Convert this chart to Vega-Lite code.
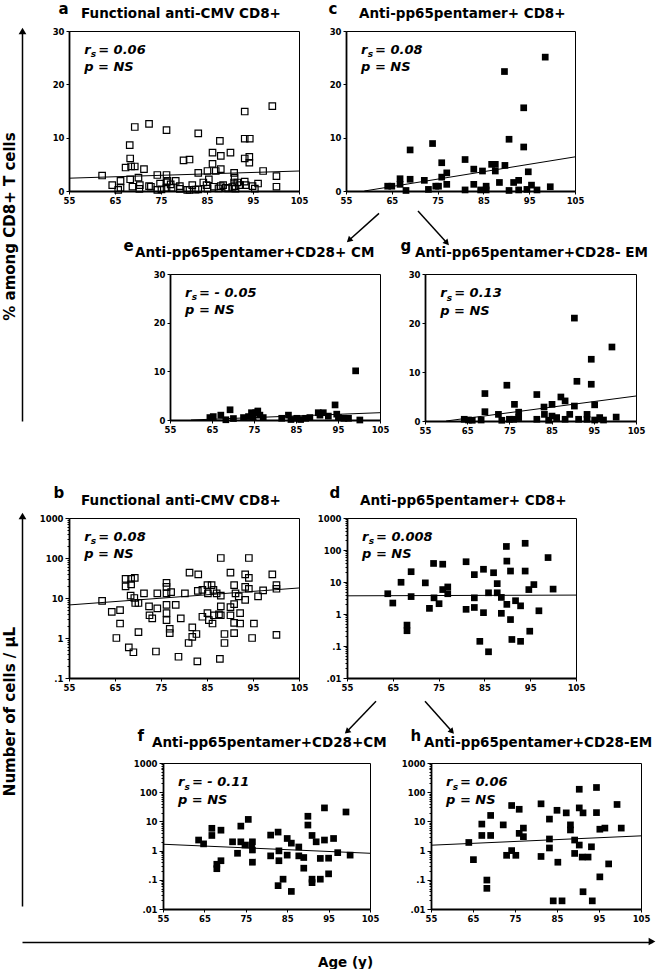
{
"$schema": "https://vega.github.io/schema/vega-lite/v6.json",
"background": "white",
"padding": {"left": 2, "top": 0, "right": 0, "bottom": 0},
"config": {
  "font": "DejaVu Sans",
  "view": {"stroke": "black", "strokeWidth": 1},
  "axis": {"labelFont": "DejaVu Sans", "labelFontSize": 8.5, "labelFontWeight": "bold", "labelColor": "black", "domainColor": "black", "domainWidth": 1.8, "tickColor": "black", "tickWidth": 1, "tickSize": 3, "labelPadding": 2, "grid": false, "titleColor": "black", "titleFont": "DejaVu Sans", "titleFontWeight": "bold"},
  "point": {"shape": "square", "filled": true, "color": "black", "size": 45, "opacity": 1},
  "rule": {"color": "black", "strokeWidth": 1},
  "text": {"font": "DejaVu Sans", "fontWeight": "bold", "fontStyle": "italic", "fontSize": 13, "align": "left", "baseline": "alphabetic", "color": "black"}
},
"datasets": {
  "a": [{"x":62.2,"y":2.9},{"x":64.4,"y":1.1},{"x":65.7,"y":0.2},{"x":66.2,"y":1.9},{"x":66.2,"y":0.6},{"x":67.3,"y":4.4},{"x":68.2,"y":8.6},{"x":68.3,"y":6.1},{"x":68.5,"y":4.6},{"x":68.3,"y":2.2},{"x":68.8,"y":0.8},{"x":69.3,"y":12.0},{"x":69.3,"y":4.6},{"x":70.1,"y":2.5},{"x":70.3,"y":0.4},{"x":70.4,"y":1.1},{"x":71.3,"y":4.1},{"x":72.4,"y":12.6},{"x":72.4,"y":0.9},{"x":72.8,"y":0.8},{"x":74.2,"y":3.0},{"x":74.2,"y":0.2},{"x":74.8,"y":1.4},{"x":75.1,"y":0.3},{"x":76.2,"y":11.4},{"x":76.2,"y":3.0},{"x":76.2,"y":1.6},{"x":76.4,"y":1.9},{"x":76.2,"y":0.6},{"x":77.1,"y":1.25},{"x":77.3,"y":0.6},{"x":78.2,"y":1.9},{"x":79.1,"y":0.4},{"x":79.1,"y":0.9},{"x":79.9,"y":5.75},{"x":80.7,"y":0.2},{"x":81.2,"y":5.9},{"x":81.2,"y":0.2},{"x":81.8,"y":1.1},{"x":82.5,"y":0.25},{"x":83.1,"y":10.8},{"x":83.1,"y":3.4},{"x":83.1,"y":0.3},{"x":84.2,"y":1.6},{"x":84.9,"y":1.1},{"x":85.1,"y":3.75},{"x":85.1,"y":0.45},{"x":85.4,"y":2.2},{"x":86.2,"y":5.1},{"x":86.2,"y":7.2},{"x":86.5,"y":0.8},{"x":86.9,"y":3.75},{"x":87.5,"y":0.5},{"x":87.8,"y":9.4},{"x":88.0,"y":6.6},{"x":88.0,"y":4.1},{"x":88.0,"y":0.9},{"x":88.5,"y":1.1},{"x":89.1,"y":0.6},{"x":89.6,"y":0.5},{"x":90.1,"y":7.2},{"x":90.5,"y":0.75},{"x":90.9,"y":3.4},{"x":90.9,"y":1.6},{"x":91.0,"y":2.5},{"x":91.0,"y":0.9},{"x":91.2,"y":0.45},{"x":91.6,"y":1.6},{"x":92.2,"y":1.1},{"x":93.2,"y":14.9},{"x":93.2,"y":9.8},{"x":94.3,"y":9.8},{"x":93.2,"y":6.1},{"x":94.2,"y":6.4},{"x":94.2,"y":5.3},{"x":93.2,"y":1.75},{"x":93.4,"y":1.1},{"x":94.9,"y":0.9},{"x":95.4,"y":0.45},{"x":96.1,"y":1.4},{"x":97.2,"y":3.75},{"x":99.2,"y":15.9},{"x":100.1,"y":2.8},{"x":100.1,"y":0.8}],
  "c": [{"x":64.1,"y":0.9},{"x":65.0,"y":0.9},{"x":66.8,"y":2.3},{"x":66.8,"y":1.25},{"x":68.1,"y":0.1},{"x":69.0,"y":7.7},{"x":69.0,"y":2.2},{"x":72.1,"y":2.0},{"x":73.0,"y":0.3},{"x":73.9,"y":8.9},{"x":74.6,"y":0.9},{"x":75.2,"y":0.9},{"x":75.9,"y":5.3},{"x":75.9,"y":2.6},{"x":77.0,"y":3.4},{"x":77.0,"y":1.25},{"x":81.0,"y":5.9},{"x":81.0,"y":0.2},{"x":82.9,"y":4.1},{"x":82.9,"y":1.25},{"x":84.8,"y":3.75},{"x":84.4,"y":0.2},{"x":85.6,"y":0.9},{"x":85.6,"y":0.2},{"x":86.8,"y":5.0},{"x":87.6,"y":3.75},{"x":87.6,"y":5.0},{"x":88.5,"y":1.6},{"x":89.6,"y":22.4},{"x":89.7,"y":4.8},{"x":90.6,"y":9.7},{"x":90.6,"y":0.1},{"x":91.6,"y":1.6},{"x":92.7,"y":2.0},{"x":92.7,"y":0.2},{"x":93.8,"y":15.6},{"x":93.8,"y":8.25},{"x":94.8,"y":3.6},{"x":94.5,"y":0.3},{"x":95.5,"y":1.1},{"x":96.7,"y":0.2},{"x":98.5,"y":25.1},{"x":99.6,"y":0.8}],
  "e": [{"x":64.5,"y":0.5},{"x":65.3,"y":0.7},{"x":67.1,"y":1.0},{"x":68.3,"y":0.05},{"x":69.3,"y":2.1},{"x":70.1,"y":0.3},{"x":72.5,"y":0.5},{"x":73.7,"y":0.7},{"x":74.4,"y":1.5},{"x":74.8,"y":0.5},{"x":75.4,"y":1.5},{"x":75.9,"y":1.85},{"x":76.4,"y":1.0},{"x":77.2,"y":0.5},{"x":81.6,"y":0.35},{"x":83.2,"y":1.0},{"x":83.8,"y":0.1},{"x":85.2,"y":0.35},{"x":86.1,"y":0.1},{"x":87.3,"y":0.35},{"x":88.3,"y":0.5},{"x":90.3,"y":1.5},{"x":90.7,"y":1.0},{"x":91.5,"y":1.5},{"x":92.7,"y":0.8},{"x":94.3,"y":3.1},{"x":94.7,"y":1.2},{"x":95.1,"y":0.5},{"x":96.4,"y":0.35},{"x":97.5,"y":0.35},{"x":99.2,"y":10.1},{"x":100.2,"y":0.0}],
  "g": [{"x":64.3,"y":0.35},{"x":65.3,"y":0.2},{"x":66.2,"y":0.15},{"x":68.3,"y":0.2},{"x":69.2,"y":5.6},{"x":69.2,"y":1.9},{"x":72.4,"y":1.35},{"x":73.2,"y":0.15},{"x":74.4,"y":7.3},{"x":75.0,"y":0.35},{"x":76.0,"y":0.35},{"x":76.2,"y":3.4},{"x":77.2,"y":1.8},{"x":77.2,"y":0.7},{"x":81.5,"y":5.4},{"x":81.5,"y":0.35},{"x":83.2,"y":2.85},{"x":83.3,"y":1.35},{"x":84.3,"y":0.15},{"x":85.1,"y":3.4},{"x":85.1,"y":1.0},{"x":86.2,"y":0.7},{"x":87.2,"y":4.9},{"x":88.2,"y":4.1},{"x":88.2,"y":0.35},{"x":89.3,"y":1.35},{"x":90.4,"y":3.05},{"x":90.4,"y":21.0},{"x":91.0,"y":8.1},{"x":91.4,"y":0.35},{"x":93.4,"y":0.35},{"x":93.4,"y":1.35},{"x":94.4,"y":12.6},{"x":94.4,"y":7.5},{"x":95.2,"y":3.3},{"x":95.2,"y":0.2},{"x":96.4,"y":0.7},{"x":97.3,"y":0.2},{"x":99.3,"y":15.1},{"x":100.3,"y":0.8}],
  "b": [{"x":62.2,"y":8.5},{"x":64.3,"y":4.5},{"x":66.1,"y":5.0},{"x":66.1,"y":2.3},{"x":65.3,"y":1.0},{"x":67.3,"y":30},{"x":68.5,"y":30},{"x":69.3,"y":32},{"x":67.3,"y":19.5},{"x":68.5,"y":22},{"x":68.4,"y":11.5},{"x":69.2,"y":10},{"x":69.4,"y":7.5},{"x":70.1,"y":7.5},{"x":70.1,"y":1.4},{"x":71.3,"y":13},{"x":72.5,"y":3.7},{"x":73.1,"y":3.1},{"x":72.4,"y":6.2},{"x":74.2,"y":13},{"x":74.2,"y":5.5},{"x":76.2,"y":24},{"x":76.2,"y":19},{"x":76.2,"y":13},{"x":76.2,"y":6.7},{"x":76.2,"y":4.2},{"x":76.2,"y":2.8},{"x":77.2,"y":14},{"x":78.2,"y":6.7},{"x":79.3,"y":3.1},{"x":80.2,"y":13},{"x":81.2,"y":43},{"x":83.1,"y":39},{"x":83.0,"y":15},{"x":84.0,"y":16},{"x":85.1,"y":21},{"x":86.0,"y":21},{"x":85.2,"y":13},{"x":86.4,"y":16},{"x":87.1,"y":13},{"x":88.0,"y":100},{"x":88.0,"y":11.5},{"x":88.0,"y":6.2},{"x":88.0,"y":3.7},{"x":84.0,"y":3.4},{"x":85.1,"y":4.2},{"x":85.4,"y":2.8},{"x":86.2,"y":2.3},{"x":86.5,"y":3.7},{"x":87.6,"y":3.9},{"x":90.1,"y":43},{"x":90.9,"y":21},{"x":91.2,"y":13},{"x":91.9,"y":11},{"x":90.1,"y":5.9},{"x":90.9,"y":7},{"x":90.1,"y":3.7},{"x":92.2,"y":4.2},{"x":92.2,"y":2.3},{"x":93.3,"y":39},{"x":94.1,"y":32},{"x":93.3,"y":19},{"x":94.1,"y":17},{"x":93.3,"y":9},{"x":94.1,"y":100},{"x":95.2,"y":2.3},{"x":96.1,"y":11},{"x":97.2,"y":15.5},{"x":99.2,"y":39},{"x":100.1,"y":21},{"x":100.1,"y":17},{"x":100.1,"y":1.2},{"x":68.0,"y":0.58},{"x":69.0,"y":0.44},{"x":73.9,"y":0.46},{"x":76.9,"y":1.7},{"x":76.9,"y":1.33},{"x":78.8,"y":0.34},{"x":81.0,"y":0.75},{"x":81.8,"y":1.85},{"x":81.8,"y":1.07},{"x":82.7,"y":1.26},{"x":82.9,"y":0.26},{"x":87.8,"y":0.3},{"x":88.8,"y":1.26},{"x":88.8,"y":0.75},{"x":90.9,"y":1.33},{"x":90.9,"y":2.4},{"x":94.8,"y":1.0}],
  "d": [{"x":63.9,"y":4.3},{"x":65.0,"y":2.2},{"x":66.8,"y":9.8},{"x":69.0,"y":21},{"x":69.0,"y":3.5},{"x":68.1,"y":0.45},{"x":68.1,"y":0.3},{"x":72.1,"y":9.4},{"x":73.0,"y":1.5},{"x":73.9,"y":38},{"x":74.0,"y":3.2},{"x":75.1,"y":2.1},{"x":75.9,"y":36},{"x":75.9,"y":5.8},{"x":77.0,"y":7},{"x":77.0,"y":4.3},{"x":81.0,"y":43},{"x":81.0,"y":1.4},{"x":82.8,"y":17},{"x":82.8,"y":3.2},{"x":82.8,"y":1.6},{"x":84.8,"y":25},{"x":84.8,"y":1.1},{"x":85.9,"y":4.6},{"x":87.0,"y":19.5},{"x":87.8,"y":8.9},{"x":87.8,"y":4.6},{"x":88.7,"y":3.3},{"x":88.7,"y":1.05},{"x":89.8,"y":129},{"x":89.9,"y":45},{"x":89.9,"y":2.0},{"x":90.7,"y":22},{"x":90.7,"y":0.67},{"x":91.8,"y":2.6},{"x":92.9,"y":1.8},{"x":93.9,"y":162},{"x":93.9,"y":22},{"x":94.7,"y":5.8},{"x":95.8,"y":8.3},{"x":96.9,"y":1.26},{"x":98.9,"y":58},{"x":100.0,"y":6},{"x":84.0,"y":0.14},{"x":85.9,"y":0.066},{"x":91.0,"y":0.16},{"x":92.9,"y":0.14},{"x":94.9,"y":0.29}],
  "f": [{"x":63.6,"y":2.3},{"x":64.8,"y":1.7},{"x":66.8,"y":5.8},{"x":66.8,"y":3.3},{"x":69.0,"y":5.0},{"x":68.0,"y":0.34},{"x":68.0,"y":0.24},{"x":69.0,"y":0.45},{"x":71.8,"y":2.0},{"x":73.0,"y":0.81},{"x":73.8,"y":6.9},{"x":73.8,"y":2.0},{"x":74.8,"y":1.55},{"x":75.6,"y":11.7},{"x":76.4,"y":1.55},{"x":76.6,"y":2.0},{"x":76.6,"y":1.05},{"x":76.6,"y":0.4},{"x":81.0,"y":3.4},{"x":81.0,"y":0.66},{"x":82.8,"y":4.3},{"x":83.0,"y":0.98},{"x":83.0,"y":0.45},{"x":84.0,"y":0.105},{"x":82.8,"y":0.063},{"x":85.0,"y":2.6},{"x":85.0,"y":0.7},{"x":86.0,"y":1.8},{"x":86.0,"y":0.04},{"x":87.8,"y":1.33},{"x":87.8,"y":0.66},{"x":89.0,"y":0.58},{"x":89.0,"y":0.25},{"x":90.0,"y":15},{"x":90.0,"y":7.5},{"x":91.0,"y":3.3},{"x":91.0,"y":0.105},{"x":91.0,"y":0.08},{"x":92.0,"y":2.0},{"x":93.0,"y":0.54},{"x":93.0,"y":0.105},{"x":94.0,"y":29},{"x":94.0,"y":2.3},{"x":95.0,"y":0.55},{"x":95.0,"y":0.16},{"x":96.2,"y":2.6},{"x":97.2,"y":0.85},{"x":99.2,"y":21},{"x":100.2,"y":0.7}],
  "h": [{"x":64.0,"y":1.9},{"x":65.1,"y":0.49},{"x":67.1,"y":8.1},{"x":67.1,"y":3.3},{"x":68.3,"y":0.098},{"x":68.3,"y":0.051},{"x":69.2,"y":16},{"x":69.2,"y":3.3},{"x":72.2,"y":7.6},{"x":73.0,"y":0.69},{"x":74.2,"y":35},{"x":74.2,"y":1.0},{"x":75.2,"y":0.69},{"x":76.0,"y":26},{"x":76.0,"y":3.9},{"x":77.0,"y":5.9},{"x":77.0,"y":3.0},{"x":81.2,"y":40},{"x":81.2,"y":0.63},{"x":83.2,"y":12},{"x":83.2,"y":2.5},{"x":83.2,"y":1.23},{"x":84.1,"y":0.019},{"x":85.0,"y":24},{"x":85.2,"y":0.4},{"x":86.2,"y":0.019},{"x":87.2,"y":19.6},{"x":88.2,"y":7.6},{"x":88.2,"y":5.1},{"x":89.2,"y":2.3},{"x":89.2,"y":0.8},{"x":90.3,"y":126},{"x":90.3,"y":29},{"x":90.3,"y":1.55},{"x":91.2,"y":19.6},{"x":91.0,"y":0.6},{"x":91.2,"y":0.039},{"x":92.4,"y":0.6},{"x":93.2,"y":1.35},{"x":93.4,"y":0.019},{"x":94.4,"y":145},{"x":94.4,"y":20},{"x":95.2,"y":5.4},{"x":96.4,"y":5.9},{"x":95.2,"y":0.126},{"x":97.3,"y":0.35},{"x":99.3,"y":38},{"x":100.3,"y":5.9}]
},
"spacing": 14,
"vconcat": [
 {"spacing": 11, "hconcat": [
  {"spacing": 91, "vconcat": [
   {"width": 1, "height": 390, "view": {"stroke": null}, "data": {"values": [{}]},
    "mark": {"type": "point", "shape": "triangle-up", "size": 60},
    "encoding": {"y": {"datum": 1, "type": "quantitative", "scale": {"domain": [0, 1], "nice": false}, "axis": {"domain": true, "domainWidth": 1.5, "ticks": false, "labels": false, "title": "% among CD8+ T cells", "titleFontSize": 15, "titlePadding": 5}}}},
   {"width": 1, "height": 390, "view": {"stroke": null}, "data": {"values": [{}]},
    "mark": {"type": "point", "shape": "triangle-up", "size": 60},
    "encoding": {"y": {"datum": 1, "type": "quantitative", "scale": {"domain": [0, 1], "nice": false}, "axis": {"domain": true, "domainWidth": 1.5, "ticks": false, "labels": false, "title": "Number of cells / μL", "titleFontSize": 15, "titlePadding": 5}}}}
  ]},
  {"spacing": 4, "vconcat": [
   {"spacing": 18, "hconcat": [
    {"width": 230, "height": 160,
     "layer": [
      {"data": {"name": "a"}, "mark": {"type": "point", "filled": false, "stroke": "black", "strokeWidth": 1.2, "size": 42},
       "encoding": {
        "x": {"field": "x", "type": "quantitative", "scale": {"domain": [55, 105], "nice": false, "zero": false}, "axis": {"values": [55, 65, 75, 85, 95, 105], "labelFlush": false, "labelOverlap": false, "title": null}},
        "y": {"field": "y", "type": "quantitative", "scale": {"domain": [0, 30], "nice": false}, "axis": {"values": [0, 5, 10, 15, 20, 25, 30], "labelExpr": "datum.value % 10 == 0 ? datum.label : ''", "tickSize": {"condition": {"test": "datum.value % 10 == 0", "value": 3}, "value": 1.5}, "labelOverlap": false, "title": "a", "titleAngle": 0, "titleX": -11, "titleY": -18, "titleAlign": "left", "titleBaseline": "alphabetic", "titleFontSize": 15}}}},
      {"data": {"values": [{}]}, "mark": "rule", "encoding": {"x": {"datum": 55}, "y": {"datum": 2.4}, "x2": {"datum": 105}, "y2": {"datum": 3.75}}},
      {"data": {"values": [{}]}, "mark": {"type": "text", "text": "Functional anti-CMV CD8+", "fontStyle": "normal", "fontSize": 13.5}, "encoding": {"x": {"datum": 57.61}, "y": {"datum": 32.44}}},
      {"data": {"values": [{}]}, "mark": {"type": "text", "text": "r"}, "encoding": {"x": {"datum": 58.3}, "y": {"datum": 25.7}}},
      {"data": {"values": [{}]}, "mark": {"type": "text", "text": "s", "fontSize": 9, "dx": 6.6, "dy": 3.5}, "encoding": {"x": {"datum": 58.3}, "y": {"datum": 25.7}}},
      {"data": {"values": [{}]}, "mark": {"type": "text", "text": "= 0.06", "dx": 14}, "encoding": {"x": {"datum": 58.3}, "y": {"datum": 25.7}}},
      {"data": {"values": [{}]}, "mark": {"type": "text", "text": "p = NS", "dy": 17.5}, "encoding": {"x": {"datum": 58.3}, "y": {"datum": 25.7}}}
     ]},
    {"width": 229, "height": 160,
     "layer": [
      {"data": {"name": "c"}, "mark": "point",
       "encoding": {
        "x": {"field": "x", "type": "quantitative", "scale": {"domain": [55, 105], "nice": false, "zero": false}, "axis": {"values": [55, 65, 75, 85, 95, 105], "labelFlush": false, "labelOverlap": false, "title": null}},
        "y": {"field": "y", "type": "quantitative", "scale": {"domain": [0, 30], "nice": false}, "axis": {"values": [0, 5, 10, 15, 20, 25, 30], "labelExpr": "datum.value % 10 == 0 ? datum.label : ''", "tickSize": {"condition": {"test": "datum.value % 10 == 0", "value": 3}, "value": 1.5}, "labelOverlap": false, "title": "c", "titleAngle": 0, "titleX": -18, "titleY": -18, "titleAlign": "left", "titleBaseline": "alphabetic", "titleFontSize": 15}}}},
      {"data": {"values": [{}]}, "mark": "rule", "encoding": {"x": {"datum": 59}, "y": {"datum": 0}, "x2": {"datum": 105}, "y2": {"datum": 6.4}}},
      {"data": {"values": [{}]}, "mark": {"type": "text", "text": "Anti-pp65pentamer+ CD8+", "fontStyle": "normal", "fontSize": 13.5}, "encoding": {"x": {"datum": 57.84}, "y": {"datum": 32.44}}},
      {"data": {"values": [{}]}, "mark": {"type": "text", "text": "r"}, "encoding": {"x": {"datum": 58.3}, "y": {"datum": 25.7}}},
      {"data": {"values": [{}]}, "mark": {"type": "text", "text": "s", "fontSize": 9, "dx": 6.6, "dy": 3.5}, "encoding": {"x": {"datum": 58.3}, "y": {"datum": 25.7}}},
      {"data": {"values": [{}]}, "mark": {"type": "text", "text": "= 0.08", "dx": 14}, "encoding": {"x": {"datum": 58.3}, "y": {"datum": 25.7}}},
      {"data": {"values": [{}]}, "mark": {"type": "text", "text": "p = NS", "dy": 17.5}, "encoding": {"x": {"datum": 58.3}, "y": {"datum": 25.7}}}
     ]}
   ]},
   {"spacing": 9, "hconcat": [
    {"width": 44, "height": 206, "view": {"stroke": null}, "data": {"values": [{}]}, "mark": {"type": "point", "opacity": 0}},
    {"width": 210, "height": 146,
     "layer": [
      {"data": {"name": "e"}, "mark": "point",
       "encoding": {
        "x": {"field": "x", "type": "quantitative", "scale": {"domain": [55, 105], "nice": false, "zero": false}, "axis": {"values": [55, 65, 75, 85, 95, 105], "labelFlush": false, "labelOverlap": false, "title": null}},
        "y": {"field": "y", "type": "quantitative", "scale": {"domain": [0, 30], "nice": false}, "axis": {"values": [0, 5, 10, 15, 20, 25, 30], "labelExpr": "datum.value % 10 == 0 ? datum.label : ''", "tickSize": {"condition": {"test": "datum.value % 10 == 0", "value": 3}, "value": 1.5}, "labelOverlap": false, "title": "e", "titleAngle": 0, "titleX": -47, "titleY": -24, "titleAlign": "left", "titleBaseline": "alphabetic", "titleFontSize": 15}}}},
      {"data": {"values": [{}]}, "mark": "rule", "encoding": {"x": {"datum": 60}, "y": {"datum": 0}, "x2": {"datum": 105}, "y2": {"datum": 1.5}}},
      {"data": {"values": [{}]}, "mark": {"type": "text", "text": "Anti-pp65pentamer+CD28+ CM", "fontStyle": "normal", "fontSize": 13.5}, "encoding": {"x": {"datum": 46.67}, "y": {"datum": 33.49}}},
      {"data": {"values": [{}]}, "mark": {"type": "text", "text": "r"}, "encoding": {"x": {"datum": 58.6}, "y": {"datum": 25.3}}},
      {"data": {"values": [{}]}, "mark": {"type": "text", "text": "s", "fontSize": 9, "dx": 6.6, "dy": 3.5}, "encoding": {"x": {"datum": 58.6}, "y": {"datum": 25.3}}},
      {"data": {"values": [{}]}, "mark": {"type": "text", "text": "= - 0.05", "dx": 14}, "encoding": {"x": {"datum": 58.6}, "y": {"datum": 25.3}}},
      {"data": {"values": [{}]}, "mark": {"type": "text", "text": "p = NS", "dy": 17.5}, "encoding": {"x": {"datum": 58.6}, "y": {"datum": 25.3}}},
      {"data": {"values": [{}]}, "mark": {"type": "rule", "strokeWidth": 1.5}, "encoding": {"x": {"datum": 104.76}, "y": {"datum": 42.45}, "x2": {"datum": 97.62}, "y2": {"datum": 36.94}}},
      {"data": {"values": [{}]}, "mark": {"type": "point", "shape": "triangle-up", "angle": 228, "size": 45}, "encoding": {"x": {"datum": 97.62}, "y": {"datum": 36.94}}}
     ]},
    {"width": 211, "height": 147,
     "layer": [
      {"data": {"name": "g"}, "mark": "point",
       "encoding": {
        "x": {"field": "x", "type": "quantitative", "scale": {"domain": [55, 105], "nice": false, "zero": false}, "axis": {"values": [55, 65, 75, 85, 95, 105], "labelFlush": false, "labelOverlap": false, "title": null}},
        "y": {"field": "y", "type": "quantitative", "scale": {"domain": [0, 30], "nice": false}, "axis": {"values": [0, 5, 10, 15, 20, 25, 30], "labelExpr": "datum.value % 10 == 0 ? datum.label : ''", "tickSize": {"condition": {"test": "datum.value % 10 == 0", "value": 3}, "value": 1.5}, "labelOverlap": false, "title": "g", "titleAngle": 0, "titleX": -25, "titleY": -24, "titleAlign": "left", "titleBaseline": "alphabetic", "titleFontSize": 15}}}},
      {"data": {"values": [{}]}, "mark": "rule", "encoding": {"x": {"datum": 60}, "y": {"datum": 0}, "x2": {"datum": 105}, "y2": {"datum": 5.1}}},
      {"data": {"values": [{}]}, "mark": {"type": "text", "text": "Anti-pp65pentamer+CD28- EM", "fontStyle": "normal", "fontSize": 13.5}, "encoding": {"x": {"datum": 52.63}, "y": {"datum": 33.47}}},
      {"data": {"values": [{}]}, "mark": {"type": "text", "text": "r"}, "encoding": {"x": {"datum": 58.6}, "y": {"datum": 25.3}}},
      {"data": {"values": [{}]}, "mark": {"type": "text", "text": "s", "fontSize": 9, "dx": 6.6, "dy": 3.5}, "encoding": {"x": {"datum": 58.6}, "y": {"datum": 25.3}}},
      {"data": {"values": [{}]}, "mark": {"type": "text", "text": "= 0.13", "dx": 14}, "encoding": {"x": {"datum": 58.6}, "y": {"datum": 25.3}}},
      {"data": {"values": [{}]}, "mark": {"type": "text", "text": "p = NS", "dy": 17.5}, "encoding": {"x": {"datum": 58.6}, "y": {"datum": 25.3}}},
      {"data": {"values": [{}]}, "mark": {"type": "rule", "strokeWidth": 1.5}, "encoding": {"x": {"datum": 53.34}, "y": {"datum": 42.86}, "x2": {"datum": 60.21}, "y2": {"datum": 36.33}}},
      {"data": {"values": [{}]}, "mark": {"type": "point", "shape": "triangle-up", "angle": 138, "size": 45}, "encoding": {"x": {"datum": 60.21}, "y": {"datum": 36.33}}}
     ]}
   ]},
   {"spacing": 7, "hconcat": [
    {"width": 230, "height": 160,
     "layer": [
      {"data": {"name": "b"}, "mark": {"type": "point", "filled": false, "stroke": "black", "strokeWidth": 1.2, "size": 42},
       "encoding": {
        "x": {"field": "x", "type": "quantitative", "scale": {"domain": [55, 105], "nice": false, "zero": false}, "axis": {"values": [55, 65, 75, 85, 95, 105], "labelFlush": false, "labelOverlap": false, "title": null}},
        "y": {"field": "y", "type": "quantitative", "scale": {"type": "log", "domain": [0.1, 1000], "nice": false}, "axis": {"values": [0.1,0.2,0.3,0.4,0.5,0.6,0.7,0.8,0.9,1,2,3,4,5,6,7,8,9,10,20,30,40,50,60,70,80,90,100,200,300,400,500,600,700,800,900,1000], "labelExpr": "datum.value == 1000 ? '1000' : datum.value == 100 ? '100' : datum.value == 10 ? '10' : datum.value == 1 ? '1' : datum.value == 0.1 ? '.1' : datum.value == 0.01 ? '.01' : ''", "tickSize": {"condition": {"test": "indexof([0.01,0.1,1,10,100,1000], datum.value) >= 0", "value": 4}, "value": 2}, "labelOverlap": false, "title": "b", "titleAngle": 0, "titleX": -16, "titleY": -21, "titleAlign": "left", "titleBaseline": "alphabetic", "titleFontSize": 15}}}},
      {"data": {"values": [{}]}, "mark": "rule", "encoding": {"x": {"datum": 55}, "y": {"datum": 6.7}, "x2": {"datum": 105}, "y2": {"datum": 17.8}}},
      {"data": {"values": [{}]}, "mark": {"type": "text", "text": "Functional anti-CMV CD8+", "fontStyle": "normal", "fontSize": 13.5}, "encoding": {"x": {"datum": 57.61}, "y": {"datum": 2113}}},
      {"data": {"values": [{}]}, "mark": {"type": "text", "text": "r"}, "encoding": {"x": {"datum": 58.3}, "y": {"datum": 270}}},
      {"data": {"values": [{}]}, "mark": {"type": "text", "text": "s", "fontSize": 9, "dx": 6.6, "dy": 3.5}, "encoding": {"x": {"datum": 58.3}, "y": {"datum": 270}}},
      {"data": {"values": [{}]}, "mark": {"type": "text", "text": "= 0.08", "dx": 14}, "encoding": {"x": {"datum": 58.3}, "y": {"datum": 270}}},
      {"data": {"values": [{}]}, "mark": {"type": "text", "text": "p = NS", "dy": 17.5}, "encoding": {"x": {"datum": 58.3}, "y": {"datum": 270}}}
     ]},
    {"width": 229, "height": 160,
     "layer": [
      {"data": {"name": "d"}, "mark": "point",
       "encoding": {
        "x": {"field": "x", "type": "quantitative", "scale": {"domain": [55, 105], "nice": false, "zero": false}, "axis": {"values": [55, 65, 75, 85, 95, 105], "labelFlush": false, "labelOverlap": false, "title": null}},
        "y": {"field": "y", "type": "quantitative", "scale": {"type": "log", "domain": [0.01, 1000], "nice": false}, "axis": {"values": [0.01,0.02,0.03,0.04,0.05,0.06,0.07,0.08,0.09,0.1,0.2,0.3,0.4,0.5,0.6,0.7,0.8,0.9,1,2,3,4,5,6,7,8,9,10,20,30,40,50,60,70,80,90,100,200,300,400,500,600,700,800,900,1000], "labelExpr": "datum.value == 1000 ? '1000' : datum.value == 100 ? '100' : datum.value == 10 ? '10' : datum.value == 1 ? '1' : datum.value == 0.1 ? '.1' : datum.value == 0.01 ? '.01' : ''", "tickSize": {"condition": {"test": "indexof([0.01,0.1,1,10,100,1000], datum.value) >= 0", "value": 4}, "value": 2}, "labelOverlap": false, "title": "d", "titleAngle": 0, "titleX": -18, "titleY": -21, "titleAlign": "left", "titleBaseline": "alphabetic", "titleFontSize": 15}}}},
      {"data": {"values": [{}]}, "mark": "rule", "encoding": {"x": {"datum": 55}, "y": {"datum": 3.7}, "x2": {"datum": 105}, "y2": {"datum": 3.9}}},
      {"data": {"values": [{}]}, "mark": {"type": "text", "text": "Anti-pp65pentamer+ CD8+", "fontStyle": "normal", "fontSize": 13.5}, "encoding": {"x": {"datum": 57.84}, "y": {"datum": 2549}}},
      {"data": {"values": [{}]}, "mark": {"type": "text", "text": "r"}, "encoding": {"x": {"datum": 58.3}, "y": {"datum": 195}}},
      {"data": {"values": [{}]}, "mark": {"type": "text", "text": "s", "fontSize": 9, "dx": 6.6, "dy": 3.5}, "encoding": {"x": {"datum": 58.3}, "y": {"datum": 195}}},
      {"data": {"values": [{}]}, "mark": {"type": "text", "text": "= 0.008", "dx": 14}, "encoding": {"x": {"datum": 58.3}, "y": {"datum": 195}}},
      {"data": {"values": [{}]}, "mark": {"type": "text", "text": "p = NS", "dy": 17.5}, "encoding": {"x": {"datum": 58.3}, "y": {"datum": 195}}}
     ]},
    {"width": 1, "height": 177, "view": {"stroke": null}, "data": {"values": [{}]}, "mark": {"type": "point", "opacity": 0}}
   ]},
   {"spacing": 12, "hconcat": [
    {"width": 51, "height": 1, "view": {"stroke": null}, "data": {"values": [{}]}, "mark": {"type": "point", "opacity": 0}},
    {"width": 207, "height": 146,
     "layer": [
      {"data": {"name": "f"}, "mark": "point",
       "encoding": {
        "x": {"field": "x", "type": "quantitative", "scale": {"domain": [55, 105], "nice": false, "zero": false}, "axis": {"values": [55, 65, 75, 85, 95, 105], "labelFlush": false, "labelOverlap": false, "title": null}},
        "y": {"field": "y", "type": "quantitative", "scale": {"type": "log", "domain": [0.01, 1000], "nice": false}, "axis": {"values": [0.01,0.02,0.03,0.04,0.05,0.06,0.07,0.08,0.09,0.1,0.2,0.3,0.4,0.5,0.6,0.7,0.8,0.9,1,2,3,4,5,6,7,8,9,10,20,30,40,50,60,70,80,90,100,200,300,400,500,600,700,800,900,1000], "labelExpr": "datum.value == 1000 ? '1000' : datum.value == 100 ? '100' : datum.value == 10 ? '10' : datum.value == 1 ? '1' : datum.value == 0.1 ? '.1' : datum.value == 0.01 ? '.01' : ''", "tickSize": {"condition": {"test": "indexof([0.01,0.1,1,10,100,1000], datum.value) >= 0", "value": 4}, "value": 2}, "labelOverlap": false, "title": "f", "titleAngle": 0, "titleX": -26, "titleY": -23, "titleAlign": "left", "titleBaseline": "alphabetic", "titleFontSize": 15}}}},
      {"data": {"values": [{}]}, "mark": "rule", "encoding": {"x": {"datum": 55}, "y": {"datum": 1.65}, "x2": {"datum": 105}, "y2": {"datum": 0.81}}},
      {"data": {"values": [{}]}, "mark": {"type": "text", "text": "Anti-pp65pentamer+CD28+CM", "fontStyle": "normal", "fontSize": 13.5}, "encoding": {"x": {"datum": 52.34}, "y": {"datum": 3533}}},
      {"data": {"values": [{}]}, "mark": {"type": "text", "text": "r"}, "encoding": {"x": {"datum": 58.6}, "y": {"datum": 160}}},
      {"data": {"values": [{}]}, "mark": {"type": "text", "text": "s", "fontSize": 9, "dx": 6.6, "dy": 3.5}, "encoding": {"x": {"datum": 58.6}, "y": {"datum": 160}}},
      {"data": {"values": [{}]}, "mark": {"type": "text", "text": "= - 0.11", "dx": 14}, "encoding": {"x": {"datum": 58.6}, "y": {"datum": 160}}},
      {"data": {"values": [{}]}, "mark": {"type": "text", "text": "p = NS", "dy": 17.5}, "encoding": {"x": {"datum": 58.6}, "y": {"datum": 160}}},
      {"data": {"values": [{}]}, "mark": {"type": "rule", "strokeWidth": 1.5}, "encoding": {"x": {"datum": 106.45}, "y": {"datum": 131200}, "x2": {"datum": 99.44}, "y2": {"datum": 11910}}},
      {"data": {"values": [{}]}, "mark": {"type": "point", "shape": "triangle-up", "angle": 228, "size": 45}, "encoding": {"x": {"datum": 99.44}, "y": {"datum": 11910}}}
     ]},
    {"width": 210, "height": 146,
     "layer": [
      {"data": {"name": "h"}, "mark": "point",
       "encoding": {
        "x": {"field": "x", "type": "quantitative", "scale": {"domain": [55, 105], "nice": false, "zero": false}, "axis": {"values": [55, 65, 75, 85, 95, 105], "labelFlush": false, "labelOverlap": false, "title": null}},
        "y": {"field": "y", "type": "quantitative", "scale": {"type": "log", "domain": [0.01, 1000], "nice": false}, "axis": {"values": [0.01,0.02,0.03,0.04,0.05,0.06,0.07,0.08,0.09,0.1,0.2,0.3,0.4,0.5,0.6,0.7,0.8,0.9,1,2,3,4,5,6,7,8,9,10,20,30,40,50,60,70,80,90,100,200,300,400,500,600,700,800,900,1000], "labelExpr": "datum.value == 1000 ? '1000' : datum.value == 100 ? '100' : datum.value == 10 ? '10' : datum.value == 1 ? '1' : datum.value == 0.1 ? '.1' : datum.value == 0.01 ? '.01' : ''", "tickSize": {"condition": {"test": "indexof([0.01,0.1,1,10,100,1000], datum.value) >= 0", "value": 4}, "value": 2}, "labelOverlap": false, "title": "h", "titleAngle": 0, "titleX": -21, "titleY": -23, "titleAlign": "left", "titleBaseline": "alphabetic", "titleFontSize": 15}}}},
      {"data": {"values": [{}]}, "mark": "rule", "encoding": {"x": {"datum": 55}, "y": {"datum": 1.53}, "x2": {"datum": 105}, "y2": {"datum": 3.2}}},
      {"data": {"values": [{}]}, "mark": {"type": "text", "text": "Anti-pp65pentamer+CD28-EM", "fontStyle": "normal", "fontSize": 13.5}, "encoding": {"x": {"datum": 53.33}, "y": {"datum": 3533}}},
      {"data": {"values": [{}]}, "mark": {"type": "text", "text": "r"}, "encoding": {"x": {"datum": 58.6}, "y": {"datum": 160}}},
      {"data": {"values": [{}]}, "mark": {"type": "text", "text": "s", "fontSize": 9, "dx": 6.6, "dy": 3.5}, "encoding": {"x": {"datum": 58.6}, "y": {"datum": 160}}},
      {"data": {"values": [{}]}, "mark": {"type": "text", "text": "= 0.06", "dx": 14}, "encoding": {"x": {"datum": 58.6}, "y": {"datum": 160}}},
      {"data": {"values": [{}]}, "mark": {"type": "text", "text": "p = NS", "dy": 17.5}, "encoding": {"x": {"datum": 58.6}, "y": {"datum": 160}}},
      {"data": {"values": [{}]}, "mark": {"type": "rule", "strokeWidth": 1.5}, "encoding": {"x": {"datum": 53.57}, "y": {"datum": 131200}, "x2": {"datum": 60.0}, "y2": {"datum": 11910}}},
      {"data": {"values": [{}]}, "mark": {"type": "point", "shape": "triangle-up", "angle": 138, "size": 45}, "encoding": {"x": {"datum": 60.0}, "y": {"datum": 11910}}}
     ]}
   ]}
  ]}
 ]},
 {"width": 630, "height": 1, "view": {"stroke": null}, "data": {"values": [{}]},
  "mark": {"type": "point", "shape": "triangle-right", "size": 60},
  "encoding": {"x": {"datum": 1, "type": "quantitative", "scale": {"domain": [0, 1], "nice": false, "zero": false}, "axis": {"orient": "bottom", "domain": true, "domainWidth": 1.5, "ticks": false, "labels": false, "title": "Age (y)", "titleFontSize": 13.5, "titlePadding": 13, "titleX": 323}}}}
]
}
